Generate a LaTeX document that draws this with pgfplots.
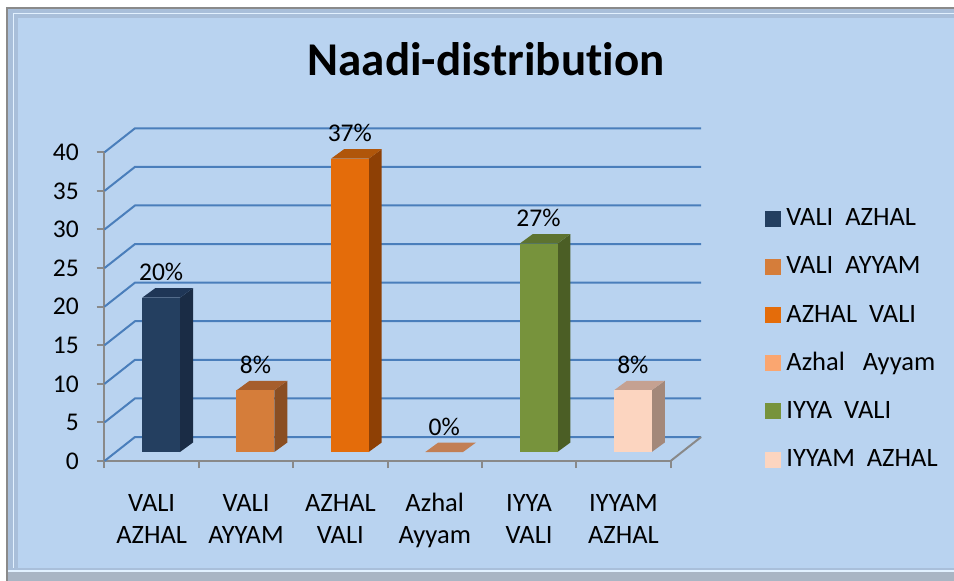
\documentclass[border=0pt]{standalone}
\usepackage{pgfplots}
\pgfplotsset{compat=1.18}
\usepackage{fontspec}
\setmainfont[Ligatures={TeX,NoCommon}]{Carlito}
\definecolor{bg}{HTML}{B9D3F0}
\definecolor{band}{HTML}{A9BFDA}
\definecolor{hilite}{HTML}{E2F1FF}
\definecolor{framegray}{HTML}{8A8A8A}
\definecolor{botgray}{HTML}{A9B5C4}
\definecolor{axisgray}{HTML}{898989}
\definecolor{gridc}{HTML}{4A7EBB}
% bar colours: front / side / top
\definecolor{fA}{HTML}{243F60}\definecolor{sA}{HTML}{1A2C45}\definecolor{tA}{HTML}{1F3656}
\definecolor{fB}{HTML}{D57D3A}\definecolor{sB}{HTML}{8A4E22}\definecolor{tB}{HTML}{A65E2C}
\definecolor{fC}{HTML}{E46C0A}\definecolor{sC}{HTML}{8E4005}\definecolor{tC}{HTML}{B0560A}
\definecolor{fD}{HTML}{FAA670}\definecolor{tD}{HTML}{C27F55}
\definecolor{fE}{HTML}{77933C}\definecolor{sE}{HTML}{4B5E25}\definecolor{tE}{HTML}{5D7330}
\definecolor{fF}{HTML}{FCD5C0}\definecolor{sF}{HTML}{A3887A}\definecolor{tF}{HTML}{C5A191}
\newcommand{\lbl}{\fontsize{25.5}{31.6}\selectfont}
\newcommand{\cat}{\fontsize{26.5}{31.6}\selectfont}
\begin{document}
\begin{tikzpicture}
\useasboundingbox (0pt,0pt) rectangle (954pt,-581pt);
\fill[white] (0pt,0pt) rectangle (954pt,-581pt);
\fill[band] (7pt,-581pt) rectangle (954pt,-8pt);
\fill[bg] (18pt,-568pt) rectangle (954pt,-18pt);
\draw[hilite,line width=1.5pt] (13.5pt,-568pt)--(13.5pt,-13.5pt)--(954pt,-13.5pt);
\fill[botgray] (7pt,-572pt) rectangle (954pt,-581pt);
\draw[hilite,line width=2pt] (7pt,-570.5pt)--(954pt,-570.5pt);
\draw[framegray,line width=2pt] (7pt,-581pt)--(7pt,-8pt)--(954pt,-8pt);
\node[font=\bfseries\fontsize{47}{56}\selectfont, anchor=base, inner sep=0pt] at (486pt,-75pt) {Naadi-distribution};
\begin{axis}[
  at={(104.5pt,-461pt)}, anchor=south west,
  scale only axis, width=566.1pt, height=308.7pt,
  xmin=0, xmax=6, ymin=0, ymax=40,
  clip=false,
  axis x line*=bottom, axis y line*=left,
  axis line style={draw=axisgray, line width=2pt, -},
  tick align=outside,
  major tick length=8pt, minor tick length=7pt,
  ytick={0,5,...,40},
  y tick style={draw=axisgray, line width=2pt},
  xtick={0.5,1.5,...,5.5},
  minor xtick={0,1,...,6},
  major x tick style={draw=none},
  minor x tick style={draw=axisgray, line width=2pt},
  xticklabels={{VALI\\AZHAL},{VALI\\AYYAM},{AZHAL\\VALI},{Azhal\\Ayyam},{IYYA\\VALI},{IYYAM\\AZHAL}},
  /pgf/number format/assume math mode=true,
  yticklabel style={font=\lbl, anchor=east, inner sep=0pt, xshift=-17.5pt},
  xticklabel style={font=\cat, align=center, anchor=base, inner sep=0pt, yshift=-74pt},
  legend cell align=left,
  legend style={at={(1.1668,0.8205)}, anchor=north west, draw=none, fill=none,
    inner sep=0pt, outer sep=0pt, row sep=24.2pt, column sep=6pt,
    font=\fontsize{26.5}{30}\selectfont,
    nodes={inner sep=0pt, text height=18pt, text depth=6pt}},
]
% back wall gridlines
\addplot[gridc, line width=2pt, forget plot] coordinates {(0,0) (0.323,3.11) (6.323,3.11)};
\addplot[gridc, line width=2pt, forget plot] coordinates {(0,5) (0.323,8.11) (6.323,8.11)};
\addplot[gridc, line width=2pt, forget plot] coordinates {(0,10) (0.323,13.11) (6.323,13.11)};
\addplot[gridc, line width=2pt, forget plot] coordinates {(0,15) (0.323,18.11) (6.323,18.11)};
\addplot[gridc, line width=2pt, forget plot] coordinates {(0,20) (0.323,23.11) (6.323,23.11)};
\addplot[gridc, line width=2pt, forget plot] coordinates {(0,25) (0.323,28.11) (6.323,28.11)};
\addplot[gridc, line width=2pt, forget plot] coordinates {(0,30) (0.323,33.11) (6.323,33.11)};
\addplot[gridc, line width=2pt, forget plot] coordinates {(0,35) (0.323,38.11) (6.323,38.11)};
\addplot[gridc, line width=2pt, forget plot] coordinates {(0,40) (0.323,43.11) (6.323,43.11)};
\addplot[axisgray, line width=2pt, forget plot] coordinates {(6,0) (6.323,3.11)};
% bar 1: VALI AZHAL = 20
\addplot[fill=sA, draw=none, forget plot, yshift=9pt] coordinates {(0.8,0) (0.938,1.23) (0.938,21.23) (0.8,20)};
\addplot[fill=tA, draw=none, forget plot, yshift=9pt] coordinates {(0.4,20) (0.8,20) (0.938,21.23) (0.538,21.23)};
\addplot[ybar, bar width=38pt, bar shift=0pt, fill=fA, draw=none, forget plot, yshift=9pt] coordinates {(0.6,20)};
% bar 2: VALI AYYAM = 8
\addplot[fill=sB, draw=none, forget plot, yshift=9pt] coordinates {(1.8,0) (1.938,1.23) (1.938,9.23) (1.8,8)};
\addplot[fill=tB, draw=none, forget plot, yshift=9pt] coordinates {(1.4,8) (1.8,8) (1.938,9.23) (1.538,9.23)};
\addplot[ybar, bar width=38pt, bar shift=0pt, fill=fB, draw=none, forget plot, yshift=9pt] coordinates {(1.6,8)};
% bar 3: AZHAL VALI = 38
\addplot[fill=sC, draw=none, forget plot, yshift=9pt] coordinates {(2.8,0) (2.938,1.23) (2.938,39.23) (2.8,38)};
\addplot[fill=tC, draw=none, forget plot, yshift=9pt] coordinates {(2.4,38) (2.8,38) (2.938,39.23) (2.538,39.23)};
\addplot[ybar, bar width=38pt, bar shift=0pt, fill=fC, draw=none, forget plot, yshift=9pt] coordinates {(2.6,38)};
% bar 4: Azhal Ayyam = 0
\addplot[fill=tD, draw=none, forget plot, yshift=9pt] coordinates {(3.4,0) (3.8,0) (3.938,1.23) (3.538,1.23)};
% bar 5: IYYA VALI = 27
\addplot[fill=sE, draw=none, forget plot, yshift=9pt] coordinates {(4.8,0) (4.938,1.23) (4.938,28.23) (4.8,27)};
\addplot[fill=tE, draw=none, forget plot, yshift=9pt] coordinates {(4.4,27) (4.8,27) (4.938,28.23) (4.538,28.23)};
\addplot[ybar, bar width=38pt, bar shift=0pt, fill=fE, draw=none, forget plot, yshift=9pt] coordinates {(4.6,27)};
% bar 6: IYYAM AZHAL = 8
\addplot[fill=sF, draw=none, forget plot, yshift=9pt] coordinates {(5.8,0) (5.938,1.23) (5.938,9.23) (5.8,8)};
\addplot[fill=tF, draw=none, forget plot, yshift=9pt] coordinates {(5.4,8) (5.8,8) (5.938,9.23) (5.538,9.23)};
\addplot[ybar, bar width=38pt, bar shift=0pt, fill=fF, draw=none, forget plot, yshift=9pt] coordinates {(5.6,8)};
% value labels
\node[anchor=base, font=\lbl, inner sep=0pt, yshift=26pt] at (axis cs:0.6,20) {20\%};
\node[anchor=base, font=\lbl, inner sep=0pt, yshift=26pt] at (axis cs:1.6,8) {8\%};
\node[anchor=base, font=\lbl, inner sep=0pt, yshift=26pt] at (axis cs:2.6,38) {37\%};
\node[anchor=base, font=\lbl, inner sep=0pt, yshift=26pt] at (axis cs:3.6,0) {0\%};
\node[anchor=base, font=\lbl, inner sep=0pt, yshift=26pt] at (axis cs:4.6,27) {27\%};
\node[anchor=base, font=\lbl, inner sep=0pt, yshift=26pt] at (axis cs:5.6,8) {8\%};
% legend
\addlegendimage{legend image code/.code={\fill[fA] (0pt,-6.1pt) rectangle (15pt,8.9pt);}}
\addlegendentry{VALI\ \ AZHAL}
\addlegendimage{legend image code/.code={\fill[fB] (0pt,-6.1pt) rectangle (15pt,8.9pt);}}
\addlegendentry{VALI\ \ AYYAM}
\addlegendimage{legend image code/.code={\fill[fC] (0pt,-6.1pt) rectangle (15pt,8.9pt);}}
\addlegendentry{AZHAL\ \ VALI}
\addlegendimage{legend image code/.code={\fill[fD] (0pt,-6.1pt) rectangle (15pt,8.9pt);}}
\addlegendentry{Azhal\ \ \ Ayyam}
\addlegendimage{legend image code/.code={\fill[fE] (0pt,-6.1pt) rectangle (15pt,8.9pt);}}
\addlegendentry{IYYA\ \ VALI}
\addlegendimage{legend image code/.code={\fill[fF] (0pt,-6.1pt) rectangle (15pt,8.9pt);}}
\addlegendentry{IYYAM\ \ AZHAL}
\end{axis}
\end{tikzpicture}
\end{document}
